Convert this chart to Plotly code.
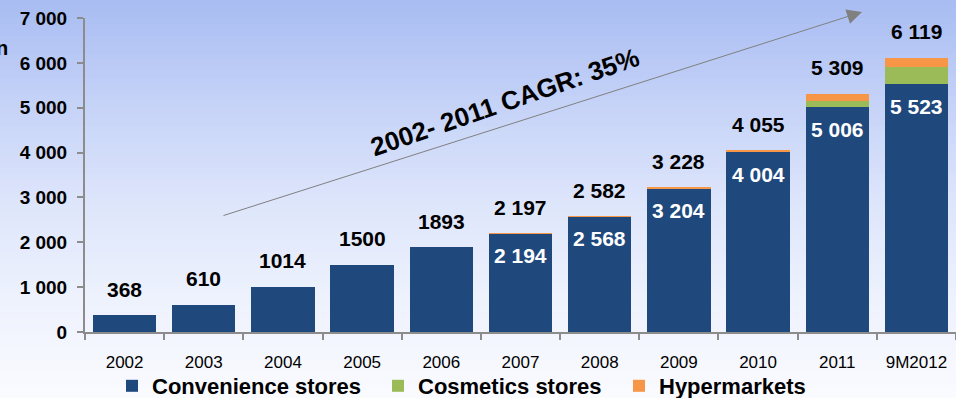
import plotly.graph_objects as go

# Store counts by year (stacked by format)
years = ["2002", "2003", "2004", "2005", "2006", "2007", "2008", "2009", "2010", "2011", "9M2012"]
convenience = [368, 610, 1014, 1500, 1893, 2194, 2568, 3204, 4004, 5006, 5523]
cosmetics = [0, 0, 0, 0, 0, 0, 0, 0, 0, 140, 380]
totals = [368, 610, 1014, 1500, 1893, 2197, 2582, 3228, 4055, 5309, 6119]
hypermarkets = [t - c - s for t, c, s in zip(totals, convenience, cosmetics)]

# Years from which a format breakdown is labelled inside the bars
labelled_from = "2007"

y_ticks = [0, 1000, 2000, 3000, 4000, 5000, 6000, 7000]
y_ticklabels = ["0", "1 000", "2 000", "3 000", "4 000", "5 000", "6 000", "7 000"]

cagr_text = "2002- 2011 CAGR: 35%"

NAVY = "#1f497d"
GREEN = "#9bbb59"
ORANGE = "#f79646"
AXIS = "#8c8c8c"
FONT = "Liberation Sans, Arial, sans-serif"

W, H = 956, 398
M_L, M_R, M_T, M_B = 85, 0, 18, 66
plot_h = H - M_T - M_B
plot_w = W - M_L - M_R


def fmt(v, spaced):
    s = f"{v:,}"
    return s.replace(",", " ") if spaced else s.replace(",", "")


def px_to_paper(px, py):
    return (px - M_L) / plot_w, (H - M_B - py) / plot_h


# One legend per series so each entry sits at its own spot
legend_left_px = [112, 378, 619]
legend_names = ["legend", "legend2", "legend3"]

fig = go.Figure()
for name, vals, colour, lg in zip(
        ["Convenience stores", "Cosmetics stores", "Hypermarkets"],
        [convenience, cosmetics, hypermarkets],
        [NAVY, GREEN, ORANGE], legend_names):
    fig.add_trace(go.Bar(x=years, y=vals, name=name, legend=lg,
                         marker=dict(color=colour, line=dict(width=0))))

start = years.index(labelled_from)
annotations = []
for i, (tot, conv) in enumerate(zip(totals, convenience)):
    spaced = i >= start
    # category axes place annotations by category index
    annotations.append(dict(
        x=i, y=tot, xref="x", yref="y", text=fmt(tot, spaced), showarrow=False,
        yanchor="middle", yshift=26,
        font=dict(family=FONT, size=21, color="black", weight="bold")))
    if spaced:
        annotations.append(dict(
            x=i, y=conv, xref="x", yref="y", text=fmt(conv, True), showarrow=False,
            yanchor="middle", yshift=-22,
            font=dict(family=FONT, size=21, color="white", weight="bold")))

# Growth arrow and CAGR label
hx, hy = px_to_paper(862, 12)
annotations.append(dict(
    x=hx, y=hy, xref="paper", yref="paper", text="", showarrow=True,
    ax=-640, ay=204, axref="pixel", ayref="pixel",
    arrowhead=2, arrowsize=3, arrowwidth=1, arrowcolor="#808080", standoff=0))
cx, cy = px_to_paper(505, 102)
annotations.append(dict(
    x=cx, y=cy, xref="paper", yref="paper", text=cagr_text, showarrow=False,
    textangle=-19, xanchor="center", yanchor="middle",
    font=dict(family=FONT, size=26, color="black", weight="bold")))
nx, ny = px_to_paper(10, 48)
annotations.append(dict(
    x=nx, y=ny, xref="paper", yref="paper", text="n", showarrow=False,
    xanchor="right", yanchor="middle",
    font=dict(family=FONT, size=20, color="black", weight="bold")))

# Sky-blue vertical gradient behind everything
stops = [(0, (168, 188, 242)), (100, (196, 210, 247)), (200, (221, 229, 251)),
         (300, (238, 242, 253)), (398, (250, 251, 255))]


def colour_at(py):
    for (y0, c0), (y1, c1) in zip(stops[:-1], stops[1:]):
        if y0 <= py <= y1:
            t = (py - y0) / (y1 - y0)
            return "rgb(%d,%d,%d)" % tuple(round(a + (b - a) * t) for a, b in zip(c0, c1))
    return "rgb(%d,%d,%d)" % stops[-1][1]


shapes = []
band = 6
for top in range(0, H, band):
    bot = min(top + band + 1, H)
    x0, y_top = px_to_paper(0, top)
    x1, y_bot = px_to_paper(W, bot)
    shapes.append(dict(type="rect", xref="paper", yref="paper", x0=x0, x1=x1,
                       y0=y_bot, y1=y_top, fillcolor=colour_at(top + band / 2),
                       line=dict(width=0), layer="below"))

legend_style = dict(orientation="h", xanchor="left", yanchor="middle",
                    bgcolor="rgba(0,0,0,0)",
                    font=dict(family=FONT, size=22, color="black", weight="bold"))
legends = {}
for lg, left in zip(legend_names, legend_left_px):
    lx, ly = px_to_paper(left, 386)
    legends[lg] = dict(legend_style, x=lx, y=ly)

fig.update_layout(
    width=W, height=H,
    margin=dict(l=M_L, r=M_R, t=M_T, b=M_B, pad=0, autoexpand=False),
    barmode="stack", bargap=0.2,
    paper_bgcolor="white", plot_bgcolor="rgba(0,0,0,0)",
    font=dict(family=FONT, color="black"),
    showlegend=True,
    xaxis=dict(type="category", categoryorder="array", categoryarray=years,
               range=[-0.5, len(years) - 0.5],
               showline=True, linecolor=AXIS, linewidth=2,
               ticks="outside", tickson="boundaries", ticklen=6, tickwidth=2,
               tickcolor=AXIS, ticklabelstandoff=14, tickangle=0,
               tickfont=dict(family=FONT, size=17, color="black"), showgrid=False),
    yaxis=dict(range=[0, 7000], tickvals=y_ticks, ticktext=y_ticklabels,
               showline=True, linecolor=AXIS, linewidth=2,
               ticks="outside", ticklen=6, tickwidth=2, tickcolor=AXIS,
               ticklabelstandoff=6, showgrid=False, zeroline=False,
               tickfont=dict(family=FONT, size=19, color="black", weight="bold")),
    annotations=annotations,
    shapes=shapes,
    **legends,
)

fig.write_html("out.html")
